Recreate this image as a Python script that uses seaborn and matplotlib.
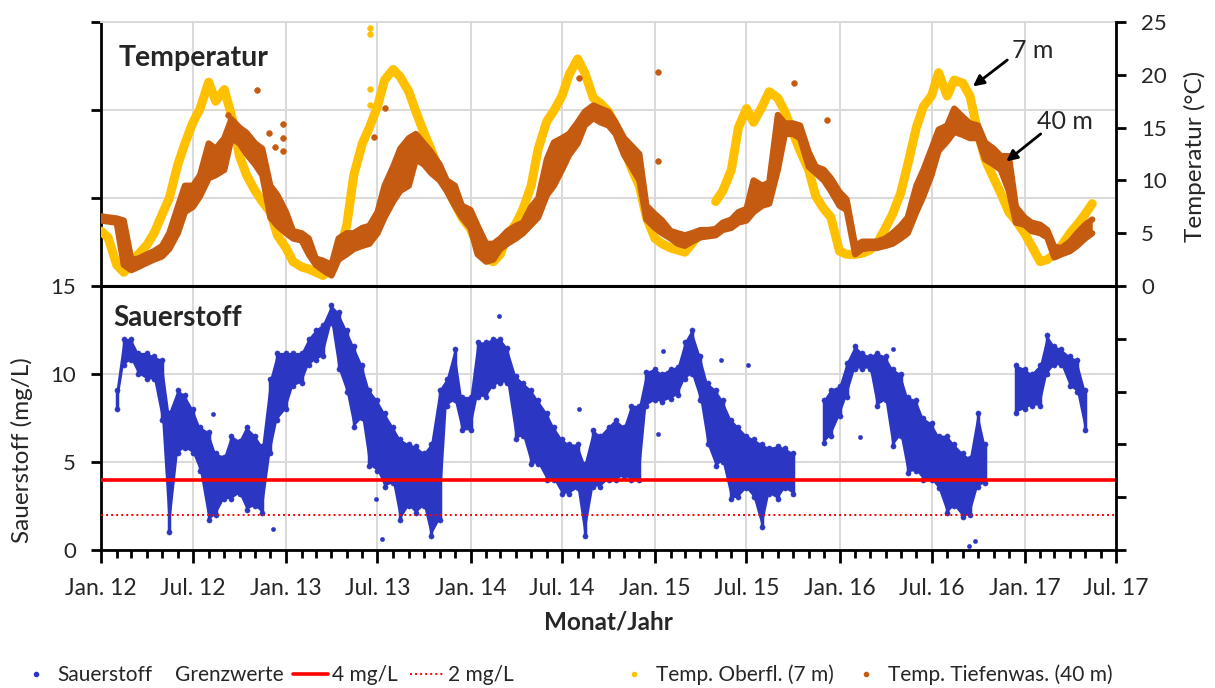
import numpy as np
import pandas as pd
import matplotlib
matplotlib.use("Agg")
import matplotlib.pyplot as plt
import matplotlib.dates as mdates
from matplotlib.lines import Line2D
from matplotlib.ticker import FuncFormatter
import seaborn as sns

nan = np.nan

# Semi-monthly sampling grid (1st and 15th of each month), Jan 2012 - Jun 2017
dates = pd.date_range("2012-01-01", periods=132, freq="SMS")

# Surface temperature at 7 m (°C), one row per half year
temp_7m = [
    5.2, 4.6, 2.0, 1.3, 2.0, 3.0, 3.9, 5.0, 6.8, 8.3, 11.5, 13.5,
    15.5, 16.8, 19.3, 17.5, 18.6, 16.2, 12.3, 10.5, 9.0, 8.0, 7.0, 4.8,
    3.6, 2.3, 1.8, 1.6, 1.3, 1.0, 1.5, 3.0, 5.7, 10.5, 13.5, 15.0,
    17.0, 19.5, 20.5, 19.8, 18.4, 16.5, 14.5, 12.9, 10.8, 9.3, 7.8, 6.5,
    5.4, 3.8, 2.6, 2.3, 3.0, 4.8, 5.9, 7.3, 9.5, 13.0, 15.6, 16.6,
    18.0, 20.0, 21.5, 20.2, 17.8, 17.3, 16.5, 15.2, 13.0, 11.2, 9.5, 6.5,
    4.5, 4.0, 3.6, 3.4, 3.2, 4.0, 5.1, nan, 8.0, 9.0, 11.0, 15.0,
    16.8, 15.5, 17.0, 18.4, 17.8, 16.5, 14.5, 12.8, 11.0, 8.5, 7.3, 6.5,
    3.3, 3.0, 3.0, 3.1, 3.4, 4.0, 5.5, 6.8, 8.8, 11.5, 15.0, 17.0,
    18.0, 20.2, 18.0, 19.5, 19.2, 18.0, 14.5, 12.0, 10.2, 8.8, 7.0, 6.2,
    5.0, 3.8, 2.3, 2.5, 3.0, 3.8, 5.0, 5.8, 6.8, 7.8, nan, nan,
]

# Deep water temperature at 40 m (°C): lower / upper edge of the scatter band
temp_40m_lo = [
    6.2, 6.1, 6.0, 2.0, 1.5, 1.8, 2.2, 2.5, 2.8, 3.5, 5.0, 7.0,
    7.5, 8.5, 10.2, 10.5, 11.0, 14.0, 13.5, 12.5, 11.5, 10.5, 6.5, 5.7,
    5.0, 4.5, 4.3, 3.0, 2.0, 1.5, 1.0, 2.5, 3.0, 3.5, 3.8, 4.0,
    5.0, 6.5, 8.0, 9.0, 9.5, 12.0, 11.5, 10.7, 10.0, 9.0, 7.6, 6.5,
    5.5, 3.0, 2.3, 2.5, 3.5, 4.0, 4.5, 5.0, 5.8, 6.5, 8.6, 9.5,
    11.0, 12.4, 13.5, 15.2, 15.9, 15.5, 15.2, 14.4, 12.4, 11.3, 10.0, 6.3,
    5.5, 5.0, 4.5, 4.0, 3.8, 4.2, 4.6, 4.7, 4.8, 5.3, 5.5, 6.0,
    6.2, 7.0, 7.6, 7.8, 11.0, 14.4, 14.4, 14.0, 11.3, 10.7, 10.0, 9.0,
    7.6, 7.2, 3.0, 3.5, 3.6, 3.6, 3.8, 4.0, 4.5, 5.0, 7.0, 8.5,
    10.5, 12.8, 13.7, 14.6, 14.3, 14.0, 14.0, 12.0, 11.5, 11.0, 9.0, 6.0,
    5.8, 5.2, 5.0, 4.6, 2.7, 3.0, 3.3, 3.8, 4.5, 5.0, nan, nan,
]
temp_40m_hi = [
    6.6, 6.5, 6.4, 6.2, 2.5, 2.6, 3.0, 3.3, 3.8, 5.0, 7.5, 9.5,
    9.5, 10.5, 13.5, 13.0, 14.0, 15.8, 15.0, 14.5, 13.5, 13.0, 9.5, 8.6,
    7.0, 5.2, 5.0, 4.5, 2.6, 2.4, 2.0, 4.5, 5.0, 5.0, 5.5, 5.7,
    7.0, 9.5, 11.3, 13.0, 14.0, 14.4, 13.5, 12.7, 11.5, 10.0, 9.5, 7.6,
    7.2, 5.7, 4.0, 4.0, 4.5, 5.2, 5.7, 6.0, 7.5, 8.3, 12.0, 13.6,
    14.0, 14.4, 15.5, 16.5, 17.1, 16.8, 16.5, 15.5, 14.0, 13.3, 12.5, 7.6,
    6.8, 6.2, 5.2, 5.0, 4.8, 5.0, 5.3, 5.3, 5.4, 6.0, 6.3, 7.0,
    7.3, 10.0, 9.5, 9.8, 16.2, 15.4, 15.4, 15.2, 12.7, 11.3, 11.0, 10.2,
    8.9, 8.2, 3.8, 4.2, 4.2, 4.2, 4.5, 5.0, 5.7, 6.5, 9.5, 11.0,
    13.0, 14.8, 15.2, 16.8, 16.0, 15.4, 15.2, 13.6, 13.0, 12.3, 12.3, 7.5,
    6.5, 6.0, 5.8, 5.3, 3.7, 3.6, 4.2, 5.0, 5.8, 6.3, nan, nan,
]

# Dissolved oxygen (mg/L): lower / upper edge of the scatter band
oxygen_lo = [
    nan, nan, 8.0, 10.5, 10.8, 10.0, 9.7, 9.7, 7.4, 1.0, 5.5, 5.8,
    5.5, 4.5, 1.7, 2.0, 2.9, 2.9, 3.2, 2.3, 2.5, 2.1, 5.5, 7.4,
    8.0, 9.3, 9.5, 10.5, 10.8, 11.0, 12.9, 10.3, 9.0, 7.0, 7.5, 4.8,
    4.5, 3.6, 3.8, 1.7, 2.5, 2.1, 2.5, 0.8, 1.7, 8.2, 8.5, 6.8,
    6.8, 8.7, 8.7, 9.3, 9.5, 9.5, 6.3, 6.5, 4.9, 4.9, 4.0, 4.0,
    3.2, 3.2, 3.5, 0.8, 3.6, 3.6, 4.0, 4.0, 4.2, 4.0, 4.0, 8.2,
    8.5, 8.4, 8.6, 8.8, 9.7, 10.0, 8.5, 6.0, 4.8, 5.0, 2.9, 3.0,
    3.5, 3.0, 1.3, 3.2, 2.9, 3.5, 3.2, nan, nan, nan, 6.1, 6.5,
    7.6, 8.7, 10.3, 10.3, 10.3, 8.2, 8.5, 5.9, 6.5, 4.4, 4.5, 4.0,
    4.0, 3.5, 2.1, 2.5, 1.9, 2.0, 3.6, 3.8, nan, nan, nan, 7.8,
    8.0, 8.2, 8.2, 10.0, 10.5, 10.5, 9.3, 9.0, 6.8, nan, nan, nan,
]
oxygen_hi = [
    nan, nan, 9.1, 12.0, 12.0, 11.2, 11.2, 11.0, 10.8, 7.8, 9.1, 8.8,
    8.0, 7.0, 6.7, 5.5, 5.3, 6.5, 6.2, 7.0, 6.5, 5.9, 9.7, 11.2,
    11.2, 11.2, 11.2, 12.0, 12.5, 12.8, 13.9, 13.5, 12.5, 11.6, 10.5, 9.1,
    8.5, 7.8, 7.0, 6.3, 6.0, 5.9, 5.5, 6.0, 9.1, 9.7, 11.4, 8.7,
    8.7, 11.8, 11.8, 12.0, 12.0, 11.5, 9.9, 9.5, 9.1, 8.5, 7.8, 7.0,
    6.3, 6.0, 6.0, 4.9, 6.8, 6.5, 7.0, 7.4, 7.0, 8.2, 8.2, 10.1,
    10.3, 10.0, 10.3, 10.4, 11.8, 12.5, 11.0, 9.5, 9.1, 8.5, 7.4, 7.0,
    6.5, 6.3, 6.0, 5.8, 5.9, 5.8, 5.5, nan, nan, nan, 8.5, 9.1,
    9.3, 10.6, 11.6, 11.2, 11.0, 11.2, 11.0, 10.3, 10.0, 8.7, 8.5, 7.5,
    7.2, 6.5, 6.5, 6.0, 5.5, 5.2, 7.8, 6.0, nan, nan, nan, 10.5,
    10.3, 10.0, 10.5, 12.2, 11.6, 11.4, 11.0, 10.8, 9.1, nan, nan, nan,
]

# Isolated readings away from the main band
temp_7m_out_dates = pd.to_datetime(["2013-06-16", "2013-06-16", "2013-06-16", "2013-06-16"])
temp_7m_out_vals = [24.4, 23.9, 18.7, 17.1]
temp_40m_out_dates = pd.to_datetime([
    "2012-09-09", "2012-11-05", "2012-11-28", "2012-12-10", "2012-12-26", "2012-12-26",
    "2012-12-26", "2013-06-25", "2013-07-15", "2014-08-04", "2015-01-07", "2015-01-07",
    "2015-10-03", "2015-12-07",
])
temp_40m_out_vals = [16.2, 18.6, 14.5, 13.2, 15.3, 14.0, 12.8, 14.1, 16.9, 19.7, 20.3, 11.8, 19.2, 15.7]
oxygen_out_dates = pd.to_datetime([
    "2012-08-09", "2012-12-06", "2013-06-29", "2013-07-09", "2014-02-27", "2015-01-17",
    "2015-05-12", "2015-07-03", "2014-08-03", "2015-01-07", "2016-02-10", "2016-04-16",
    "2016-09-13", "2016-09-25",
])
oxygen_out_vals = [7.7, 1.2, 2.9, 0.6, 13.3, 11.3, 10.8, 10.5, 8.0, 6.6, 6.4, 11.4, 0.2, 0.5]

# Oxygen limit values (mg/L)
limit_strict = 4
limit_critical = 2

C_OXY = "#2b36c2"
C_T7 = "#FFC000"
C_T40 = "#C55A11"
C_RED = "#FF0000"
C_GRID = "#d9d9d9"

sns.set_theme(style="white")
plt.rcParams["font.family"] = ["Lato", "DejaVu Sans"]

fig = plt.figure(figsize=(12.15, 6.88), dpi=100)
W, H = 1215, 688
ax = fig.add_axes([101 / W, 138 / H, 1015 / W, 528 / H])
ax2 = ax.twinx()

d = mdates.date2num(dates)
o_lo = np.array(oxygen_lo)
o_hi = np.array(oxygen_hi)
t40_lo = np.array(temp_40m_lo)
t40_hi = np.array(temp_40m_hi)
t7 = np.array(temp_7m)

# --- oxygen (left axis) ---
ax.set_axisbelow(True)
ax.fill_between(d, o_lo, o_hi, color=C_OXY, lw=0, zorder=2)
ax.vlines(d, o_lo, o_hi, color=C_OXY, lw=2.5, zorder=2)
sns.scatterplot(x=dates, y=o_lo, ax=ax, color=C_OXY, s=14, edgecolor=C_OXY, zorder=3, legend=False)
sns.scatterplot(x=dates, y=o_hi, ax=ax, color=C_OXY, s=14, edgecolor=C_OXY, zorder=3, legend=False)
sns.scatterplot(x=oxygen_out_dates, y=oxygen_out_vals, ax=ax, color=C_OXY, s=10,
                edgecolor=C_OXY, zorder=3, legend=False)
ax.axhline(limit_strict, color=C_RED, lw=2.6, zorder=4)
ax.axhline(limit_critical, color=C_RED, lw=1.4, ls=(0, (1, 1.6)), zorder=4)
ax.axhline(15, color="black", lw=2.2, zorder=5)

# --- temperature (right axis) ---
ax2.plot(d, t7, color=C_T7, lw=6.5, zorder=1, solid_capstyle="round", solid_joinstyle="round")
ax2.fill_between(d, t40_lo, t40_hi, color=C_T40, lw=0, zorder=2)
ax2.plot(d, t40_lo, color=C_T40, lw=4.5, zorder=2, solid_capstyle="round", solid_joinstyle="round")
ax2.plot(d, t40_hi, color=C_T40, lw=4.5, zorder=2, solid_capstyle="round", solid_joinstyle="round")
sns.scatterplot(x=temp_7m_out_dates, y=temp_7m_out_vals, ax=ax2, color=C_T7, s=18,
                edgecolor=C_T7, zorder=3, legend=False)
sns.scatterplot(x=temp_40m_out_dates, y=temp_40m_out_vals, ax=ax2, color=C_T40, s=18,
                edgecolor=C_T40, zorder=3, legend=False)

# --- axes, ticks, grid ---
ax.set_xlim(mdates.date2num(pd.Timestamp("2012-01-01")), mdates.date2num(pd.Timestamp("2017-07-01")))
ax.set_ylim(0, 30)
ax2.set_ylim(-25, 25)

ax.xaxis.set_major_locator(mdates.MonthLocator(bymonth=[1, 7]))
ax.xaxis.set_minor_locator(mdates.MonthLocator())
ax.xaxis.set_major_formatter(FuncFormatter(
    lambda v, p: f"{'Jan.' if mdates.num2date(v).month == 1 else 'Jul.'} {mdates.num2date(v).year % 100:02d}"))

ax.set_yticks(range(0, 31, 5))
ax.set_yticklabels(["0", "5", "10", "15", "", "", ""])
ax2.set_yticks(range(-25, 26, 5))
ax2.set_yticklabels(["" if v < 0 else str(v) for v in range(-25, 26, 5)])

ax.grid(axis="y", color=C_GRID, lw=1.4)
ax.grid(axis="x", which="major", color=C_GRID, lw=1.4)

ax.tick_params(axis="x", which="major", direction="out", length=9, width=2, color="black",
               labelsize=16.5, pad=11, bottom=True)
ax.tick_params(axis="x", which="minor", direction="out", length=6, width=2, color="black", bottom=True)
ax.tick_params(axis="y", direction="out", length=7, width=2, color="black", labelsize=16, pad=11, left=True)
ax2.tick_params(axis="y", direction="out", length=7, width=2, color="black", labelsize=16, pad=11, right=True)

for a in (ax, ax2):
    for s in a.spines.values():
        s.set_visible(False)
for side in ("left", "bottom"):
    ax.spines[side].set_visible(True)
    ax.spines[side].set_color("black")
    ax.spines[side].set_linewidth(2)
ax.spines["top"].set_visible(True)
ax.spines["top"].set_color(C_GRID)
ax.spines["top"].set_linewidth(1.4)
ax2.spines["right"].set_visible(True)
ax2.spines["right"].set_color("black")
ax2.spines["right"].set_linewidth(2)

ax.set_ylabel("Sauerstoff (mg/L)", fontsize=17.5)
ax.yaxis.set_label_coords(-0.067, 0.19)
ax2.set_ylabel("Temperatur (°C)", fontsize=17.5)
ax2.yaxis.set_label_coords(1.067, 0.746)
ax.set_xlabel("")

ax.text(0.017, 0.932, "Temperatur", transform=ax.transAxes, fontsize=20.5, fontweight="bold", va="center")
ax.text(0.012, 0.439, "Sauerstoff", transform=ax.transAxes, fontsize=20, fontweight="bold", va="center")
fig.text(608 / W, 1 - 622 / H, "Monat/Jahr", fontsize=17.5, fontweight="bold", ha="center", va="center")

# Depth labels with arrows pointing at the two temperature series
arrow = dict(arrowstyle="-|>", color="black", lw=2, mutation_scale=16, shrinkA=0, shrinkB=0)
ax2.annotate("", xy=(mdates.date2num(pd.Timestamp("2016-09-21")), 18.9),
             xytext=(mdates.date2num(pd.Timestamp("2016-11-28")), 21.4), arrowprops=arrow)
ax2.text(mdates.date2num(pd.Timestamp("2016-12-07")), 22.3, "7 m", fontsize=18, va="center", ha="left")
ax2.annotate("", xy=(mdates.date2num(pd.Timestamp("2016-11-26")), 11.8),
             xytext=(mdates.date2num(pd.Timestamp("2017-02-02")), 14.4), arrowprops=arrow)
ax2.text(mdates.date2num(pd.Timestamp("2017-01-26")), 15.6, "40 m", fontsize=18, va="center", ha="left")

# --- legend row ---
leg_kw = dict(loc="center left", frameon=False, fontsize=15, borderpad=0, borderaxespad=0)
y_leg = 13 / H
fig.legend([Line2D([], [], ls="", marker="o", color=C_OXY, markersize=3)], ["Sauerstoff"],
           bbox_to_anchor=(20 / W, y_leg), handlelength=1.5, handletextpad=0.3, **leg_kw)
fig.text(175 / W, y_leg, "Grenzwerte", fontsize=15, ha="left", va="center")
fig.legend([Line2D([], [], color=C_RED, lw=2.6),
            Line2D([], [], color=C_RED, lw=1.4, ls=(0, (1, 1.6)))],
           ["4 mg/L", "2 mg/L"], ncol=2, bbox_to_anchor=(293 / W, y_leg),
           handlelength=1.7, columnspacing=0.6, handletextpad=0.15, **leg_kw)
fig.legend([Line2D([], [], ls="", marker="o", color=C_T7, markersize=3),
            Line2D([], [], ls="", marker="o", color=C_T40, markersize=3)],
           ["Temp. Oberfl. (7 m)", "Temp. Tiefenwas. (40 m)"], ncol=2,
           bbox_to_anchor=(618 / W, y_leg), handlelength=1.5, columnspacing=0.8,
           handletextpad=0.3, **leg_kw)

fig.savefig("out.png", dpi=100)
